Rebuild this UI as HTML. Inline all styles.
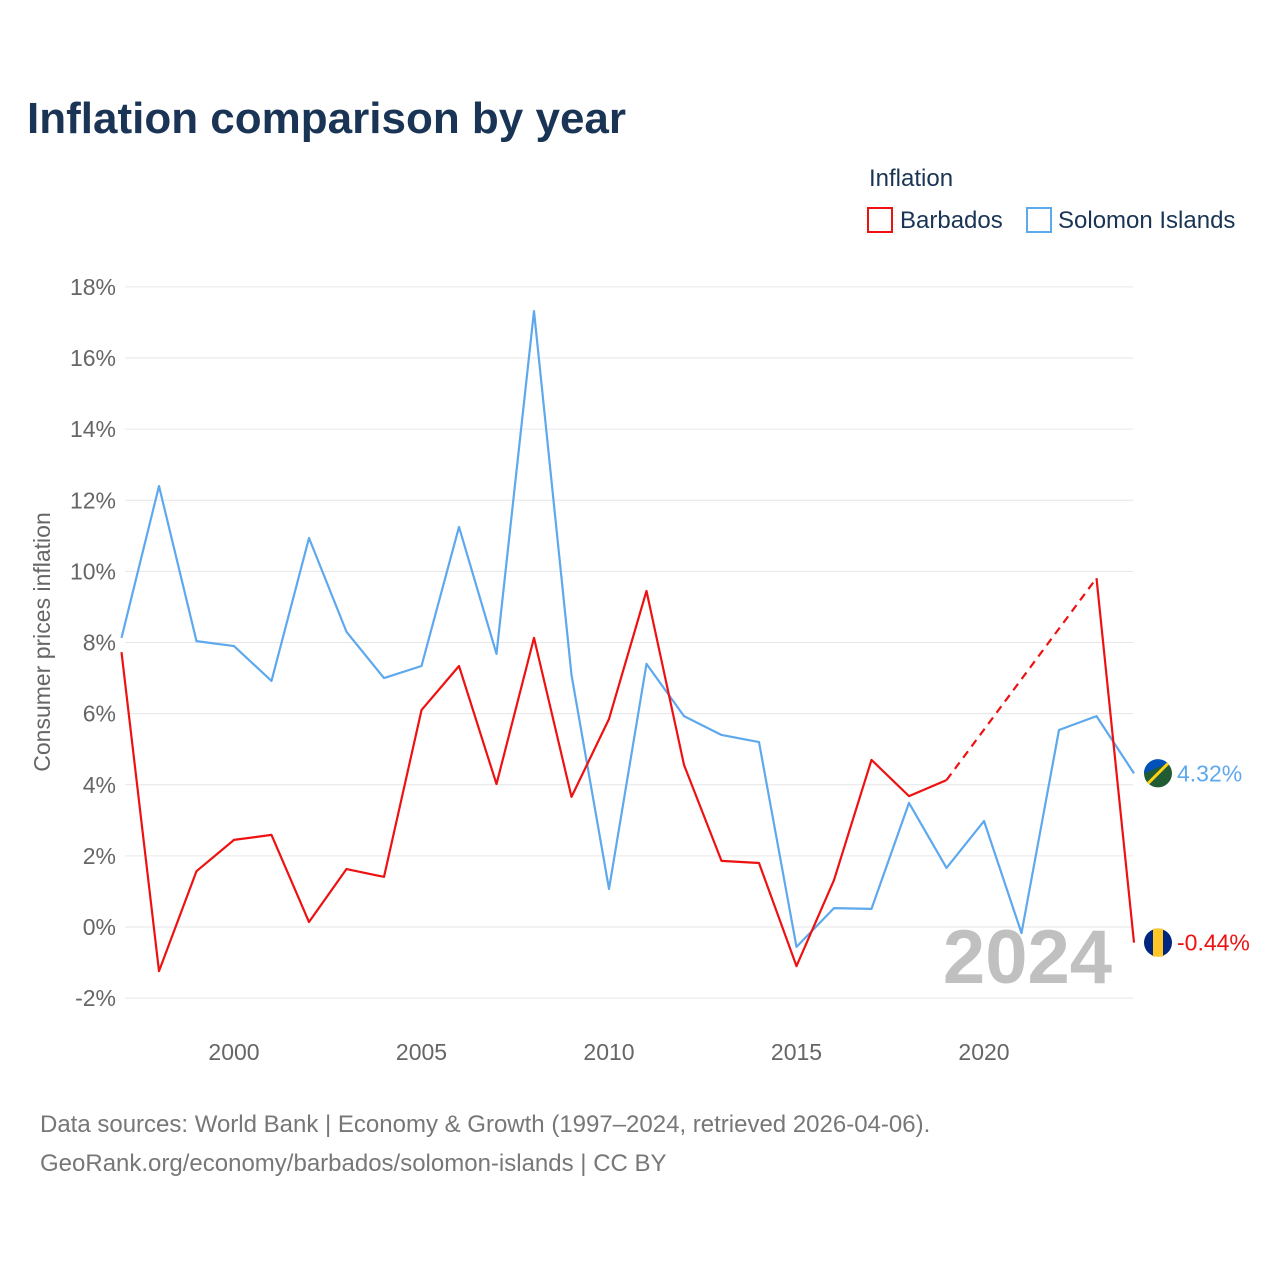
<!DOCTYPE html>
<html><head><meta charset="utf-8"><style>
body{margin:0;background:#fff;font-family:"Liberation Sans",sans-serif}
#wrap{position:relative;width:1280px;height:1280px}
</style></head><body>
<div id="wrap">
<svg id="svg" width="1280" height="1280">
<text x="27" y="133" font-size="44" font-weight="bold" fill="#1a3455">Inflation comparison by year</text>
<text x="869" y="186" font-size="24" fill="#1a3455">Inflation</text>
<g><rect x="868" y="208" width="24" height="24" fill="none" stroke="#ee1111" stroke-width="2"/><text x="900" y="228" font-size="24" fill="#1a3455">Barbados</text></g>
<g><rect x="1027" y="208" width="24" height="24" fill="none" stroke="#5ea8ee" stroke-width="2"/><text x="1058" y="228" font-size="24" fill="#1a3455">Solomon Islands</text></g>
<text transform="translate(50,642) rotate(-90)" text-anchor="middle" font-size="23" fill="#666">Consumer prices inflation</text>
<g id="grid"></g><g id="series"></g>
<text x="1112" y="983" text-anchor="end" font-size="76" font-weight="bold" fill="#c0c0c0">2024</text>
<text x="40" y="1132" font-size="24" fill="#777">Data sources: World Bank | Economy &amp; Growth (1997–2024, retrieved 2026-04-06).</text>
<text x="40" y="1171" font-size="24" fill="#777">GeoRank.org/economy/barbados/solomon-islands | CC BY</text>
</svg></div>
<script>
const years=[1997,1998,1999,2000,2001,2002,2003,2004,2005,2006,2007,2008,2009,2010,2011,2012,2013,2014,2015,2016,2017,2018,2019,2020,2021,2022,2023,2024];
const barbados=[7.73,-1.24,1.57,2.45,2.59,0.14,1.63,1.41,6.10,7.34,4.02,8.13,3.66,5.85,9.45,4.56,1.86,1.80,-1.10,1.32,4.70,3.68,4.13,null,null,null,9.81,-0.44];
const solomon=[8.13,12.4,8.04,7.90,6.92,10.94,8.30,7.00,7.34,11.25,7.68,17.32,7.09,1.07,7.40,5.93,5.40,5.20,-0.56,0.53,0.51,3.49,1.66,2.98,-0.17,5.54,5.93,4.32];
const yTicks=[-2,0,2,4,6,8,10,12,14,16,18];
const xTicks=[2000,2005,2010,2015,2020];
const NS="http://www.w3.org/2000/svg";
const X=y=>121.5+(y-1997)*37.5, Y=v=>927-v*35.56;
function mk(t,a,p){const e=document.createElementNS(NS,t);for(const k in a)e.setAttribute(k,a[k]);p.appendChild(e);return e;}
const g=document.getElementById('grid'),s=document.getElementById('series');
yTicks.forEach(v=>{const l=mk('line',{x1:125,x2:1133,y1:Y(v),y2:Y(v),stroke:'#e6e6e6','stroke-width':1},g);


const t=mk('text',{x:116,y:Y(v)+8,'text-anchor':'end','font-size':23,fill:'#666'},g);t.textContent=v+'%';

});
xTicks.forEach(v=>{const t=mk('text',{x:X(v),y:1060,'text-anchor':'middle','font-size':23,fill:'#666'},g);t.textContent=v;

});
function draw(data,color,name){
 let segs=[],cur=[],dash=[];let last=null;
 data.forEach((v,i)=>{if(v==null){if(cur.length)segs.push(cur);cur=[];return;}
  if(cur.length===0&&last!=null&&i-last>1)dash.push([[X(years[last]),Y(data[last])],[X(years[i]),Y(v)]]);
  cur.push([X(years[i]),Y(v)]);last=i;});
 if(cur.length)segs.push(cur);
 segs.forEach(sg=>{const p=mk('polyline',{points:sg.map(q=>q.join(',')).join(' '),fill:'none',stroke:color,'stroke-width':2.2,'stroke-linejoin':'round'},s);
 
 });
 dash.forEach(d=>{const p=mk('line',{x1:d[0][0],y1:d[0][1],x2:d[1][0],y2:d[1][1],stroke:color,'stroke-width':2.2,'stroke-dasharray':'8,6'},s);
 
 });
 const v=data[data.length-1],cy=Y(v);
 const c=mk('circle',{cx:1158,cy:cy,r:14,fill:name==='barbados'?'#00267f':'#215b33'},s);
 
 
 if(name==='barbados'){mk('rect',{x:1153,y:cy-14,width:10,height:28,fill:'#ffc726'},s);}
 else{mk('path',{d:`M${1158-14},${cy} A14,14 0 0 1 ${1158+10},${cy-10} Z`,fill:'#0051ba'},s);mk('line',{x1:1148,y1:cy+10,x2:1168,y2:cy-10,stroke:'#fcd116','stroke-width':3},s);}
 const t=mk('text',{x:1177,y:cy+8,'font-size':23,fill:color},s);t.textContent=v.toFixed(2)+'%';
 
 
}
draw(solomon,'#5ea8ee','solomon-islands');
draw(barbados,'#ee1111','barbados');
</script></body></html>
